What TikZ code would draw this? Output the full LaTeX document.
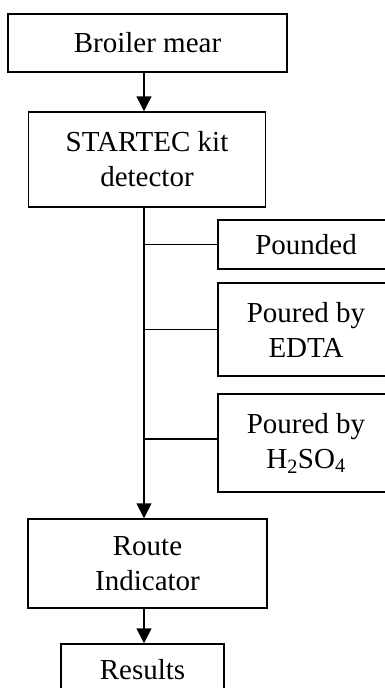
\documentclass[tikz,border=0pt]{standalone}
\usepackage{fontspec,tikz}
\usetikzlibrary{arrows.meta}
\setmainfont{Liberation Serif}

\begin{document}
\begin{tikzpicture}[x=1pt,y=-1pt,
  stepbox/.style={draw,line width=1.5pt,rectangle,align=center,inner sep=0pt,
    font=\fontsize{29.0}{35.0}\selectfont},
  flow/.style={line width=1.6pt,-{Triangle[length=15pt,width=15pt]}},
  link/.style={line width=1.5pt}]
\path[use as bounding box] (0,0) rectangle (384.0,688.0);
\coordinate (spine) at (144,0);
\node[stepbox,minimum width=279pt,minimum height=58pt] (broiler) at (147.5,43) {Broiler mear};
\node[stepbox,minimum width=237pt,minimum height=95pt] (startec) at (147,159.5) {STARTEC kit\\detector};
\node[stepbox,minimum width=176pt,minimum height=49pt] (pounded) at (306,244.5) {Pounded};
\node[stepbox,minimum width=176pt,minimum height=93pt] (edta) at (306,329.5) {Poured by\\EDTA};
\node[stepbox,minimum width=176pt,minimum height=98pt] (sulfuric) at (306,443) {Poured by\\H\textsubscript{2}SO\textsubscript{4}};
\node[stepbox,minimum width=239pt,minimum height=89pt] (route) at (147.5,563.5) {Route\\Indicator};
\node[stepbox,minimum width=163pt,minimum height=52pt] (results) at (142.5,670) {Results};
\draw[flow] (broiler.south -| spine) -- (startec.north -| spine);
\draw[flow] (startec.south -| spine) -- (route.north -| spine);
\draw[link] (pounded.west -| spine) -- (pounded.west);
\draw[link] (edta.west -| spine) -- (edta.west);
\draw[link] ([yshift=4pt]sulfuric.west -| spine) -- ([yshift=4pt]sulfuric.west);
\draw[flow] (route.south -| spine) -- (results.north -| spine);
\end{tikzpicture}
\end{document}
